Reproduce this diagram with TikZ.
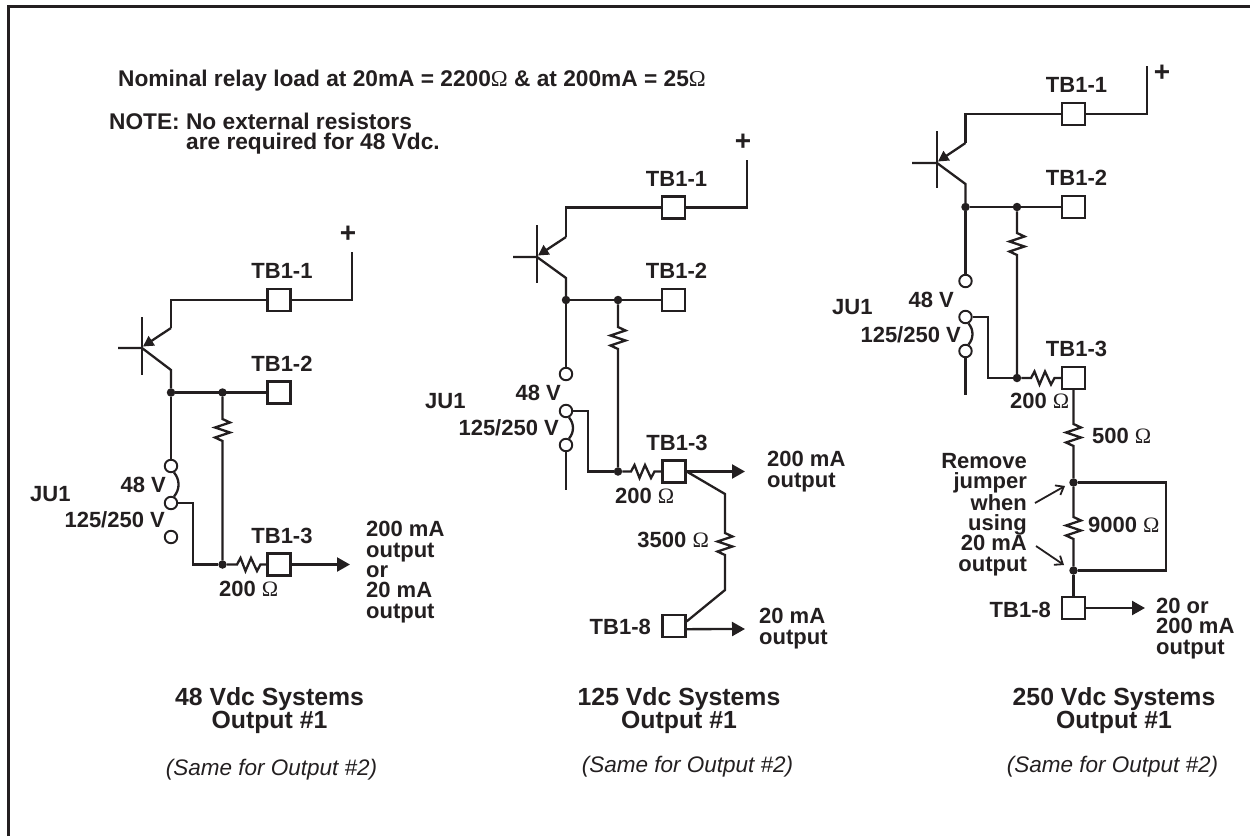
\documentclass[tikz,border=0pt]{standalone}
\usepackage{fontspec}
\setmainfont{Liberation Sans}
\newfontfamily\ohmfont{Liberation Serif}
\newcommand{\ohmsym}{{\ohmfont\mdseries\char"03A9}}
\usepackage{tikz}
\usetikzlibrary{arrows.meta,positioning,calc}
\definecolor{ink}{HTML}{231F20}

\begin{document}
\begin{tikzpicture}[x=1pt,y=-1pt,line width=2.3pt,draw=ink,text=ink,
  tb box/.style={rectangle,draw,fill=white,minimum width=23pt,minimum height=22pt,inner sep=0pt},
  term/.style={circle,draw,fill=white,line width=1.9pt,minimum size=12.5pt,inner sep=0pt},
  dot/.style={circle,fill=ink,minimum size=8.5pt,inner sep=0pt,outer sep=0pt},
  lbl/.style={anchor=base west,inner sep=0pt,align=left,font=\bfseries\fontsize{22}{20.3}\selectfont},
  rlbl/.style={lbl,anchor=base east,align=right},
  top lbl/.style={lbl,font=\bfseries\fontsize{22.7}{20.3}\selectfont},
  tb label/.style={inner sep=0pt,node distance=29pt,xshift=3pt,font=\bfseries\fontsize{22}{20.3}\selectfont},
  title/.style={anchor=base,inner sep=0pt,align=center,font=\bfseries\fontsize{24.8}{22.5}\selectfont},
  same/.style={anchor=base,inner sep=0pt,font=\itshape\fontsize{22.5}{24}\selectfont},
  plus/.style={inner sep=0pt,font=\bfseries\fontsize{28}{28}\selectfont},
  out wire/.style={-{Triangle[length=13pt,width=14pt]}},
  tip wire/.style={-{Triangle[length=10.5pt,width=11pt]}},
  hint wire/.style={line width=1.8pt,-{Straight Barb[length=7pt,width=11pt]}},
  res v/.style={to path={-- ++(7.5,3.5) -- ++(-15,5) -- ++(15,5) -- ++(-15,5) -- ++(7.5,3.5) -- (\tikztotarget)}},
  res h/.style={to path={-- ++(3.5,-6.5) -- ++(5,13) -- ++(5.5,-13) -- ++(6,13) -- ++(3.5,-6.5) -- (\tikztotarget)}}]

  \useasboundingbox (0,0) rectangle (1250,836);
  \draw[line width=2.8pt] (8.7,836) -- (8.7,6.7) -- (1250,6.7);

  \node[top lbl] (load) at (117,86) {Nominal relay load at 20mA = 2200\ohmsym{} \& at 200mA = 25\ohmsym};
  \node[top lbl] (note) at (108,129) {NOTE: No external resistors};
  \node[top lbl] (note2) at (185,149) {are required for 48 Vdc.};

  \node[tb box] (a1) at (279,300) {};
  \node[tb box] (a2) [below of=a1,node distance=92.5pt] {};
  \node[tb box] (a3) at (279,564.5) {};
  \node[tb label] (a1t) [above of=a1] {TB1-1};
  \node[tb label] (a2t) [above of=a2] {TB1-2};
  \node[tb label] (a3t) [above of=a3] {TB1-3};
  \node[plus] (ap) at (348,234) {+};
  \coordinate (atop) at (352,252);
  \coordinate (ae) at (171,328);
  \coordinate (ac) at (171,370);
  \coordinate (ajn) at (142,348);
  \coordinate (abl) at (118,348);
  \coordinate (abt) at (142,317);
  \coordinate (abb) at (142,375);
  \node[dot] (ad1) at (171,392.5) {};
  \node[dot] (ad2) at (222.5,392.5) {};
  \node[dot] (ad3) at (222.5,564.5) {};
  \node[term] (aj1) at (171,466) {};
  \node[term] (aj2) at (171,503) {};
  \node[term] (aj3) at (171,537) {};
  \coordinate (arv1) at (222.5,419);
  \coordinate (arv2) at (222.5,442);
  \coordinate (arh1) at (237,564.5);
  \coordinate (arh2) at (260.5,564.5);
  \coordinate (ajw) at (193,503);
  \coordinate (aout) at (350,564.5);

  \draw (atop) |- (a1.east);
  \draw (a1.west) -| (ae);
  \draw[tip wire] (ae) -- (143,346.5);
  \draw (abt) -- (abb);
  \draw (abl) -- (ajn) -- (ac) -- (ad1);
  \draw (ad1) -- (a2.west);
  \draw (ad1) -- (aj1);
  \draw (ad2) -- (arv1) to[res v] (arv2) -- (ad3);
  \draw (aj1.-65) to[out=-50,in=50] (aj2.65);
  \draw (aj2) -- (ajw) |- (ad3);
  \draw (ad3) -- (arh1) to[res h] (arh2) -- (a3.west);
  \draw[out wire] (a3.east) -- (aout);

  \node[lbl] (aju) at (29,501) {JU1};
  \node[rlbl] (a48) at (167,492) {48 V};
  \node[rlbl] (a125) at (166,527) {125/250 V};
  \node[lbl] (a200) at (218,596) {200 \ohmsym};
  \node[lbl] (aotxt) at (365,618) {200 mA\\output\\or\\20 mA\\output};
  \node[title] (atitle) at (269.5,728) {48 Vdc Systems\\Output \#1};
  \node[same] (asame) at (271.5,775) {(Same for Output \#2)};

  \node[tb box] (b1) at (673.5,207.5) {};
  \node[tb box] (b2) [below of=b1,node distance=92.5pt] {};
  \node[tb box] (b3) at (674,471.5) {};
  \node[tb box] (b8) at (674,626) {};
  \node[tb label] (b1t) [above of=b1] {TB1-1};
  \node[tb label] (b2t) [above of=b2] {TB1-2};
  \node[tb label] (b3t) [above of=b3] {TB1-3};
  \node[plus] (bp) at (743,142) {+};
  \coordinate (btop) at (747,160);
  \coordinate (be) at (566,237);
  \coordinate (bc) at (566,278);
  \coordinate (bjn) at (537,257);
  \coordinate (bbl) at (513,257);
  \coordinate (bbt) at (537,225);
  \coordinate (bbb) at (537,283);
  \node[dot] (bd1) at (566,300) {};
  \node[dot] (bd2) at (618,300) {};
  \node[dot] (bd3) at (618,471.5) {};
  \node[term] (bj1) at (566,374) {};
  \node[term] (bj2) at (566,411) {};
  \node[term] (bj3) at (566,445) {};
  \coordinate (bjend) at (566,490);
  \coordinate (brv1) at (618,327);
  \coordinate (brv2) at (618,350);
  \coordinate (brh1) at (631,471.5);
  \coordinate (brh2) at (654.5,471.5);
  \coordinate (bjw) at (588,411);
  \coordinate (bout) at (745,471.5);
  \coordinate (bout8) at (745,629);
  \coordinate (bk1) at (725,494);
  \coordinate (bk2) at (725,533);
  \coordinate (bk3) at (725,556);
  \coordinate (bk4) at (725,590);

  \draw (btop) |- (b1.east);
  \draw (b1.west) -| (be);
  \draw[tip wire] (be) -- (538,255.5);
  \draw (bbt) -- (bbb);
  \draw (bbl) -- (bjn) -- (bc) -- (bd1);
  \draw (bd1) -- (b2.west);
  \draw (bd1) -- (bj1);
  \draw (bd2) -- (brv1) to[res v] (brv2) -- (bd3);
  \draw (bj2.-65) to[out=-50,in=50] (bj3.65);
  \draw (bj2) -- (bjw) |- (bd3);
  \draw (bj3) -- (bjend);
  \draw (bd3) -- (brh1) to[res h] (brh2) -- (b3.west);
  \draw[out wire] (b3.east) -- (bout);
  \draw (b3.east) -- (bk1) -- (bk2) to[res v] (bk3) -- (bk4) -- (b8.20);
  \draw[out wire] (b8.-14) -- (bout8);

  \node[lbl] (bju) at (424,408) {JU1};
  \node[rlbl] (b48) at (562,400) {48 V};
  \node[rlbl] (b125) at (560,435) {125/250 V};
  \node[lbl] (b200) at (614,503) {200 \ohmsym};
  \node[rlbl] (b3500) at (710,547) {3500 \ohmsym};
  \node[rlbl] (b8t) at (652,634) {TB1-8};
  \node[lbl] (botxt) at (766,487) {200 mA\\output};
  \node[lbl] (botxt8) at (758,644) {20 mA\\output};
  \node[title] (btitle) at (679,728) {125 Vdc Systems\\Output \#1};
  \node[same] (bsame) at (687.5,772) {(Same for Output \#2)};

  \node[tb box] (c1) at (1073.5,114) {};
  \node[tb box] (c2) [below of=c1,node distance=93pt] {};
  \node[tb box] (c3) at (1073.5,378) {};
  \node[tb box] (c8) at (1073.5,608) {};
  \node[tb label] (c1t) [above of=c1] {TB1-1};
  \node[tb label] (c2t) [above of=c2] {TB1-2};
  \node[tb label] (c3t) [above of=c3] {TB1-3};
  \node[plus] (cp) at (1162,73) {+};
  \coordinate (ctop) at (1147,66);
  \coordinate (ce) at (965.5,143);
  \coordinate (cc) at (965.5,184);
  \coordinate (cjn) at (937,163);
  \coordinate (cbl) at (912,163);
  \coordinate (cbt) at (937,131);
  \coordinate (cbb) at (937,188);
  \node[dot] (cd1) at (965.5,207) {};
  \node[dot] (cd2) at (1017,207) {};
  \node[dot] (cd3) at (1017,378) {};
  \node[dot] (cd4) at (1073.5,482.5) {};
  \node[dot] (cd5) at (1073.5,570.5) {};
  \node[term] (cj1) at (965.5,281) {};
  \node[term] (cj2) at (965.5,317) {};
  \node[term] (cj3) at (965.5,351) {};
  \coordinate (cjend) at (965.5,395);
  \coordinate (crv1) at (1017,233);
  \coordinate (crv2) at (1017,256);
  \coordinate (crh1) at (1031,378);
  \coordinate (crh2) at (1054.5,378);
  \coordinate (cjw) at (988,317);
  \coordinate (cout) at (1145,608);
  \coordinate (cr5a) at (1073.5,424);
  \coordinate (cr5b) at (1073.5,447);
  \coordinate (cr9a) at (1073.5,517);
  \coordinate (cr9b) at (1073.5,540);
  \coordinate (cbox) at (1166,482.5);
  \coordinate (ch1) at (1035,503);
  \coordinate (ch1e) at (1065,486);
  \coordinate (ch2) at (1036,546);
  \coordinate (ch2e) at (1064,565);

  \draw (ctop) |- (c1.east);
  \draw (c1.west) -| (ce);
  \draw[tip wire] (ce) -- (938,161.5);
  \draw (cbt) -- (cbb);
  \draw (cbl) -- (cjn) -- (cc) -- (cd1);
  \draw (cd1) -- (c2.west);
  \draw (cd1) -- (cj1);
  \draw (cd2) -- (crv1) to[res v] (crv2) -- (cd3);
  \draw (cj2.-65) to[out=-50,in=50] (cj3.65);
  \draw (cj2) -- (cjw) |- (cd3);
  \draw (cj3) -- (cjend);
  \draw (cd3) -- (crh1) to[res h] (crh2) -- (c3.west);
  \draw (c3.south) -- (cr5a) to[res v] (cr5b) -- (cd4);
  \draw (cd4) -- (cr9a) to[res v] (cr9b) -- (cd5);
  \draw (cd4) -- (cbox) |- (cd5);
  \draw (cd5) -- (c8.north);
  \draw[out wire] (c8.east) -- (cout);
  \draw[hint wire] (ch1) -- (ch1e);
  \draw[hint wire] (ch2) -- (ch2e);

  \node[lbl] (cju) at (831,314) {JU1};
  \node[rlbl] (c48) at (955,307) {48 V};
  \node[rlbl] (c125) at (962,342) {125/250 V};
  \node[lbl] (c200) at (1009,408) {200 \ohmsym};
  \node[lbl] (c500) at (1091,443) {500 \ohmsym};
  \node[lbl] (c9000) at (1087,532) {9000 \ohmsym};
  \node[rlbl] (c8t) at (1052,617) {TB1-8};
  \node[rlbl] (cjump) at (1028,571) {Remove\\jumper\\when\\using\\20 mA\\output};
  \node[lbl] (cotxt) at (1155,654) {20 or\\200 mA\\output};
  \node[title] (ctitle) at (1114,728) {250 Vdc Systems\\Output \#1};
  \node[same] (csame) at (1112.5,772) {(Same for Output \#2)};
\end{tikzpicture}
\end{document}
